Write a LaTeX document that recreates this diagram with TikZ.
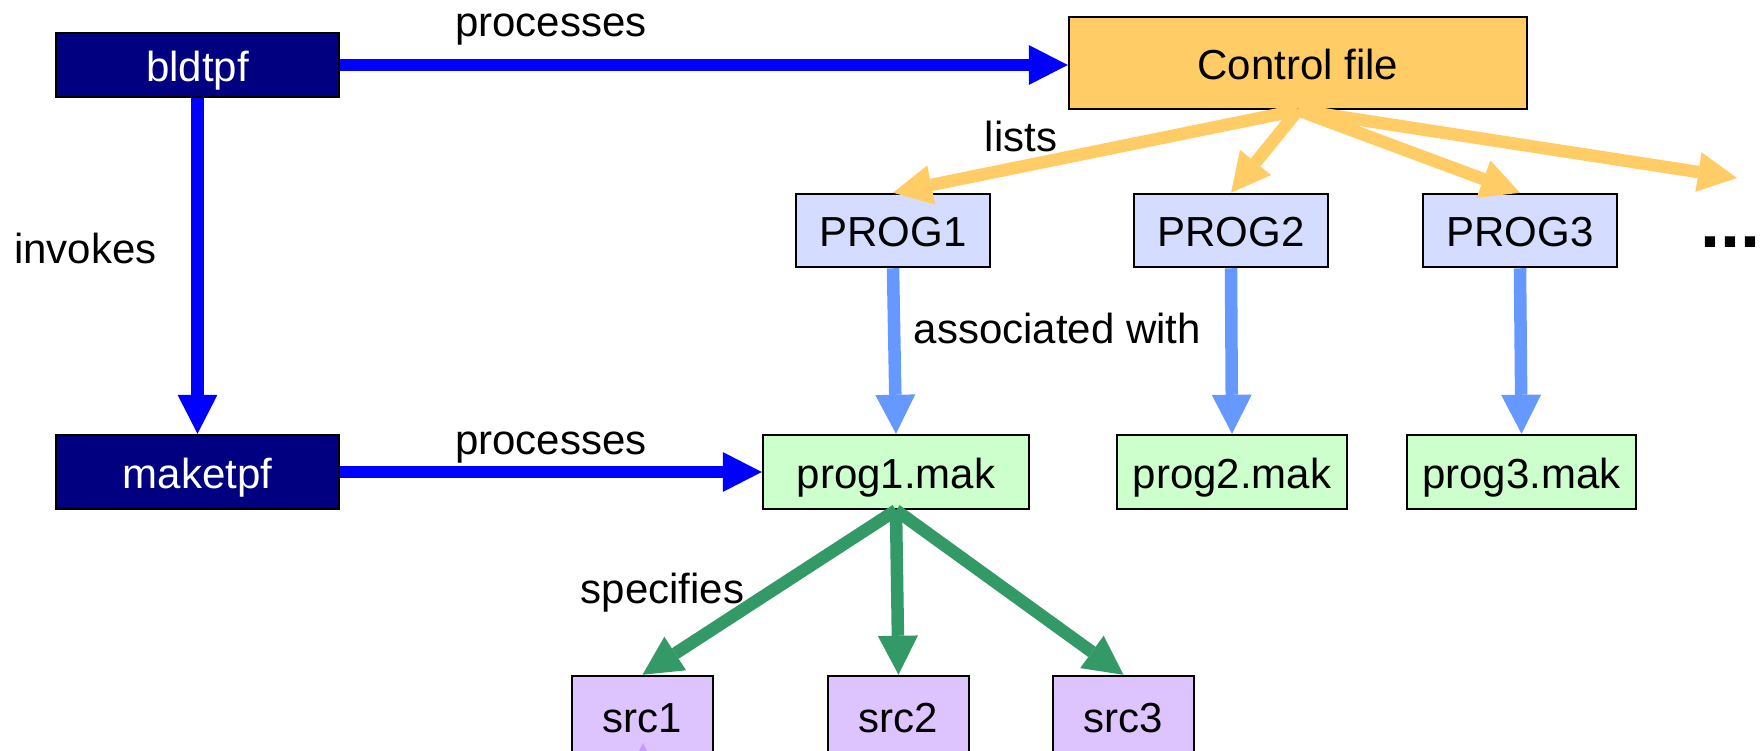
\documentclass[tikz,border=0pt]{standalone}
\usepackage{fontspec}
\setmainfont{Liberation Sans}
\usetikzlibrary{arrows.meta}

\definecolor{navybox}{RGB}{0,0,128}
\definecolor{flowblue}{RGB}{0,0,255}
\definecolor{ctrlfill}{RGB}{255,204,102}
\definecolor{progfill}{RGB}{212,220,255}
\definecolor{linkblue}{RGB}{102,153,255}
\definecolor{makfill}{RGB}{204,255,204}
\definecolor{specgreen}{RGB}{51,153,102}
\definecolor{srcfill}{RGB}{222,196,255}
\definecolor{srcarrow}{RGB}{204,153,255}

\begin{document}
\begin{tikzpicture}[x=1pt,y=-1pt,
  bigfont/.style={font=\fontsize{42}{50}\selectfont},
  box/.style={draw=black, line width=2.5pt, rectangle, inner sep=0pt,
    text height=32pt, text depth=0pt, bigfont},
  toolbox/.style={box, fill=navybox, text=white, minimum width=283pt},
  ctrlbox/.style={box, fill=ctrlfill, minimum width=458pt, minimum height=92pt},
  progbox/.style={box, fill=progfill, minimum width=194pt, minimum height=73pt},
  makbox/.style={box, fill=makfill, minimum height=74pt},
  srcbox/.style={box, fill=srcfill, minimum width=141pt, minimum height=80pt},
  conn/.style={line width=12.5pt, -{Triangle[length=39pt,width=40pt,line width=0pt]}},
  lbl/.style={bigfont, inner sep=0pt, anchor=base},
]
\useasboundingbox (0,0) rectangle (1762,750);

% tools
\node[toolbox, minimum height=64pt] (bldtpf) at (197.5,65) {bldtpf};
\node[toolbox, minimum height=74pt] (maketpf) at (197.5,472) {maketpf};

% control file and the programs it lists
\node[ctrlbox] (cf) at (1298,63) {Control file};
\node[progbox] (prog1) at (893,230.5) {PROG1};
\node[progbox] (prog2) at (1231,230.5) {PROG2};
\node[progbox] (prog3) at (1520,230.5) {PROG3};
\node[anchor=base west, inner sep=0pt, font=\bfseries\fontsize{72}{80}\selectfont] (more) at (1700,247) {...};
\coordinate (moretip) at (1737,178);

% makefiles
\node[makbox, minimum width=266pt] (mak1) at (896,472) {prog1.mak};
\node[makbox, minimum width=230pt] (mak2) at (1232,472) {prog2.mak};
\node[makbox, minimum width=229pt] (mak3) at (1521.5,472) {prog3.mak};

% sources
\node[srcbox] (src1) at (642.5,716) {src1};
\node[srcbox] (src2) at (898.5,716) {src2};
\node[srcbox] (src3) at (1123.5,716) {src3};
\coordinate (feed) at (643,800);
\coordinate (feedtip) at (643,743);

% tool connectors
\draw[conn, flowblue] (bldtpf.east) -- (bldtpf.east -| cf.west);
\draw[conn, flowblue] (bldtpf.south) -- (maketpf.north);
\draw[conn, flowblue] (maketpf.east) -- (maketpf.east -| mak1.west);

% control file lists programs
\draw[conn, ctrlfill] (cf.south) -- (prog1.north);
\draw[conn, ctrlfill] (cf.south) -- (prog2.north);
\draw[conn, ctrlfill] (cf.south) -- (prog3.north);
\draw[conn, ctrlfill] (cf.south) -- (moretip);

% programs associated with makefiles
\draw[conn, linkblue] (prog1.south) -- (mak1.north);
\draw[conn, linkblue] (prog2.south) -- (mak2.north);
\draw[conn, linkblue] (prog3.south) -- (mak3.north);

% makefile specifies sources
\draw[conn, specgreen] (mak1.south) -- (src1.north);
\draw[conn, specgreen] (mak1.south) -- (src2.north);
\draw[conn, specgreen] (mak1.south) -- (src3.north);
\draw[conn, srcarrow] (feed) -- (feedtip);

% labels
\node[lbl] (lproc1) at (551,36.5) {processes};
\node[lbl] (llists) at (1021,151.5) {lists};
\node[lbl] (linv) at (85.5,263) {invokes};
\node[lbl] (lassoc) at (1057.5,343) {associated with};
\node[lbl] (lproc2) at (551,454) {processes};
\node[lbl] (lspec) at (662.5,603) {specifies};
\end{tikzpicture}
\end{document}
